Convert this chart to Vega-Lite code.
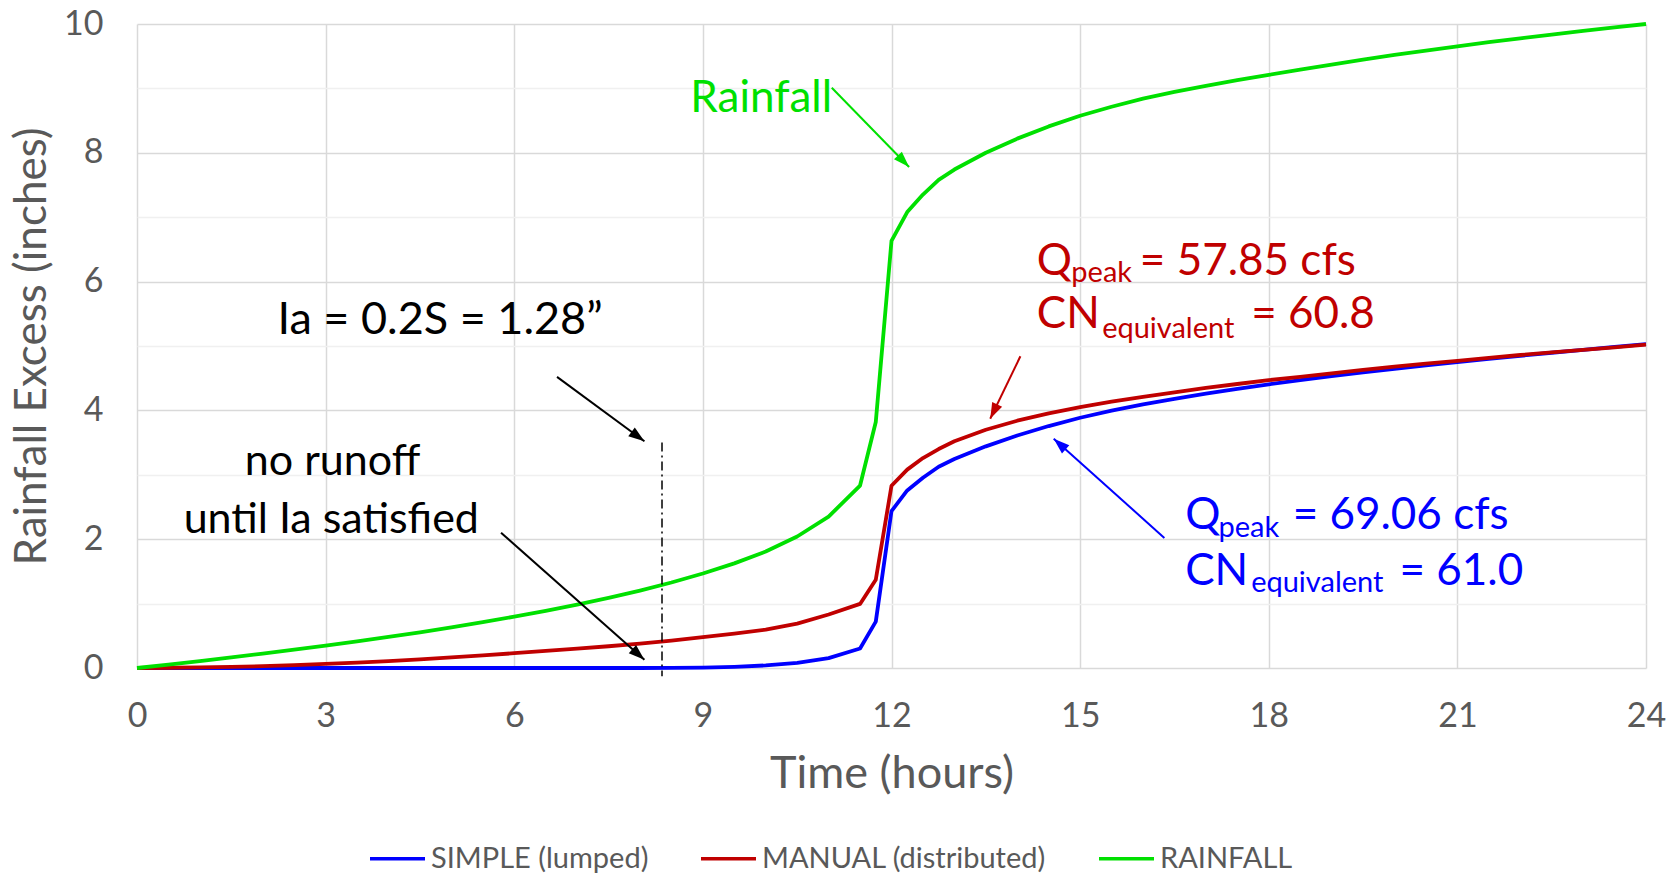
{
  "$schema": "https://vega.github.io/schema/vega-lite/v6.json",
  "width": 1509,
  "height": 644,
  "autosize": {"type": "none"},
  "padding": {"left": 137, "top": 24, "right": 34, "bottom": 207},
  "background": "white",
  "config": {"font": "Lato", "view": {"stroke": null}},
  "datasets": {
    "series": [
      {"t": 0, "simple": 0, "manual": 0, "rainfall": 0},
      {"t": 0.5, "simple": 0, "manual": 0.004, "rainfall": 0.053},
      {"t": 1, "simple": 0, "manual": 0.01, "rainfall": 0.108},
      {"t": 1.5, "simple": 0, "manual": 0.018, "rainfall": 0.164},
      {"t": 2, "simple": 0, "manual": 0.028, "rainfall": 0.223},
      {"t": 2.5, "simple": 0, "manual": 0.045, "rainfall": 0.284},
      {"t": 3, "simple": 0, "manual": 0.065, "rainfall": 0.347},
      {"t": 3.5, "simple": 0, "manual": 0.085, "rainfall": 0.414},
      {"t": 4, "simple": 0, "manual": 0.108, "rainfall": 0.483},
      {"t": 4.5, "simple": 0, "manual": 0.135, "rainfall": 0.555},
      {"t": 5, "simple": 0, "manual": 0.165, "rainfall": 0.632},
      {"t": 5.5, "simple": 0, "manual": 0.196, "rainfall": 0.712},
      {"t": 6, "simple": 0, "manual": 0.23, "rainfall": 0.797},
      {"t": 6.5, "simple": 0, "manual": 0.265, "rainfall": 0.887},
      {"t": 7, "simple": 0, "manual": 0.3, "rainfall": 0.984},
      {"t": 7.5, "simple": 0, "manual": 0.338, "rainfall": 1.089},
      {"t": 8, "simple": 0, "manual": 0.378, "rainfall": 1.203},
      {"t": 8.5, "simple": 0.0004, "manual": 0.425, "rainfall": 1.328},
      {"t": 9, "simple": 0.005, "manual": 0.48, "rainfall": 1.467},
      {"t": 9.5, "simple": 0.018, "manual": 0.535, "rainfall": 1.625},
      {"t": 10, "simple": 0.04, "manual": 0.595, "rainfall": 1.808},
      {"t": 10.5, "simple": 0.081, "manual": 0.69, "rainfall": 2.042},
      {"t": 11, "simple": 0.154, "manual": 0.83, "rainfall": 2.351},
      {"t": 11.5, "simple": 0.303, "manual": 0.995, "rainfall": 2.833},
      {"t": 11.75, "simple": 0.72, "manual": 1.37, "rainfall": 3.82},
      {"t": 12, "simple": 2.437, "manual": 2.83, "rainfall": 6.632},
      {"t": 12.25, "simple": 2.757, "manual": 3.08, "rainfall": 7.08},
      {"t": 12.5, "simple": 2.955, "manual": 3.26, "rainfall": 7.351},
      {"t": 12.75, "simple": 3.125, "manual": 3.4, "rainfall": 7.58},
      {"t": 13, "simple": 3.245, "manual": 3.52, "rainfall": 7.74},
      {"t": 13.5, "simple": 3.442, "manual": 3.7, "rainfall": 8.0},
      {"t": 14, "simple": 3.61, "manual": 3.84, "rainfall": 8.22},
      {"t": 14.5, "simple": 3.757, "manual": 3.955, "rainfall": 8.41},
      {"t": 15, "simple": 3.886, "manual": 4.05, "rainfall": 8.575},
      {"t": 15.5, "simple": 3.996, "manual": 4.135, "rainfall": 8.715},
      {"t": 16, "simple": 4.094, "manual": 4.21, "rainfall": 8.84},
      {"t": 16.5, "simple": 4.18, "manual": 4.28, "rainfall": 8.945},
      {"t": 17, "simple": 4.26, "manual": 4.35, "rainfall": 9.04},
      {"t": 17.5, "simple": 4.335, "manual": 4.41, "rainfall": 9.13},
      {"t": 18, "simple": 4.405, "manual": 4.47, "rainfall": 9.21},
      {"t": 18.5, "simple": 4.47, "manual": 4.52, "rainfall": 9.29},
      {"t": 19, "simple": 4.532, "manual": 4.575, "rainfall": 9.37},
      {"t": 19.5, "simple": 4.59, "manual": 4.63, "rainfall": 9.446},
      {"t": 20, "simple": 4.645, "manual": 4.68, "rainfall": 9.519},
      {"t": 20.5, "simple": 4.698, "manual": 4.725, "rainfall": 9.588},
      {"t": 21, "simple": 4.75, "manual": 4.77, "rainfall": 9.653},
      {"t": 21.5, "simple": 4.8, "manual": 4.815, "rainfall": 9.717},
      {"t": 22, "simple": 4.848, "manual": 4.86, "rainfall": 9.777},
      {"t": 22.5, "simple": 4.895, "manual": 4.9, "rainfall": 9.836},
      {"t": 23, "simple": 4.941, "manual": 4.94, "rainfall": 9.892},
      {"t": 23.5, "simple": 4.985, "manual": 4.98, "rainfall": 9.947},
      {"t": 24, "simple": 5.029, "manual": 5.02, "rainfall": 10.0}
    ],
    "ia": [{"t": 8.35, "v": 3.5, "v2": -0.13}],
    "arrows": [
      {"grp": "k", "t": 6.68, "v": 4.52, "t2": 8.07, "v2": 3.52, "ang": 126.4},
      {"grp": "k", "t": 5.79, "v": 2.1, "t2": 8.07, "v2": 0.13, "ang": 131.5},
      {"grp": "g", "t": 11.05, "v": 9.01, "t2": 12.28, "v2": 7.78, "ang": 135.7},
      {"grp": "r", "t": 14.05, "v": 4.84, "t2": 13.57, "v2": 3.87, "ang": 205.7},
      {"grp": "b", "t": 16.34, "v": 2.02, "t2": 14.58, "v2": 3.56, "ang": 311.8}
    ],
    "notes": [
      {"txt": "Rainfall", "t": 8.8, "v": 8.64, "grp": "g", "kind": "L"},
      {"txt": "Q", "t": 14.31, "v": 6.11, "grp": "r", "kind": "L"},
      {"txt": "peak", "t": 14.86, "v": 6.0, "grp": "r", "kind": "S"},
      {"txt": "= 57.85 cfs", "t": 15.95, "v": 6.11, "grp": "r", "kind": "L"},
      {"txt": "CN", "t": 14.31, "v": 5.28, "grp": "r", "kind": "L"},
      {"txt": "equivalent", "t": 15.35, "v": 5.12, "grp": "r", "kind": "S"},
      {"txt": "= 60.8", "t": 17.72, "v": 5.28, "grp": "r", "kind": "L"},
      {"txt": "Q", "t": 16.67, "v": 2.16, "grp": "b", "kind": "L"},
      {"txt": "peak", "t": 17.2, "v": 2.03, "grp": "b", "kind": "S"},
      {"txt": "= 69.06 cfs", "t": 18.38, "v": 2.16, "grp": "b", "kind": "L"},
      {"txt": "CN", "t": 16.67, "v": 1.29, "grp": "b", "kind": "L"},
      {"txt": "equivalent", "t": 17.72, "v": 1.18, "grp": "b", "kind": "S"},
      {"txt": "= 61.0", "t": 20.08, "v": 1.29, "grp": "b", "kind": "L"},
      {"txt": "Ia = 0.2S = 1.28”", "t": 4.82, "v": 5.18, "grp": "k", "kind": "I"},
      {"txt": "no runoff", "t": 3.11, "v": 3.0, "grp": "k", "kind": "C"},
      {"txt": "until Ia satisfied", "t": 3.09, "v": 2.1, "grp": "k", "kind": "C"}
    ]
  },
  "resolve": {"scale": {"color": "independent"}, "legend": {"color": "independent"}},
  "layer": [
    {
      "data": {"name": "series"},
      "transform": [{"fold": ["simple", "manual", "rainfall"], "as": ["series", "val"]}],
      "mark": {"type": "line", "strokeWidth": 3.8, "strokeJoin": "round"},
      "encoding": {
        "x": {
          "field": "t", "type": "quantitative",
          "scale": {"domain": [0, 24], "nice": false, "zero": false},
          "axis": {
            "values": [0, 3, 6, 9, 12, 15, 18, 21, 24],
            "format": "d",
            "grid": true, "gridColor": "#D9D9D9", "gridWidth": 1.5,
            "domain": false, "ticks": false,
            "labelFontSize": 34, "labelColor": "#595959", "labelPadding": 31,
            "labelFlush": false, "labelOverlap": false,
            "title": "Time (hours)", "titleFontSize": 45, "titleFontWeight": "normal",
            "titleColor": "#595959", "titleY": 119, "titleBaseline": "alphabetic"
          }
        },
        "y": {
          "field": "val", "type": "quantitative",
          "scale": {"domain": [0, 10], "nice": false},
          "axis": {
            "values": [0, 0.5, 1, 1.5, 2, 2.5, 3, 3.5, 4, 4.5, 5, 5.5, 6, 6.5, 7, 7.5, 8, 8.5, 9, 9.5, 10],
            "grid": true,
            "gridColor": {"condition": {"test": "datum.value % 2 === 0", "value": "#D9D9D9"}, "value": "#F0F0F0"},
            "gridWidth": 1.5,
            "domain": false, "ticks": false,
            "labelExpr": "datum.value % 2 === 0 ? format(datum.value, 'd') : ''",
            "labelFontSize": 34, "labelColor": "#595959", "labelPadding": 34,
            "labelOverlap": false, "labelFlush": false,
            "title": "Rainfall Excess (inches)", "titleFontSize": 44, "titleFontWeight": "normal",
            "titleColor": "#595959", "titleX": -83, "titleY": 322,
            "titleAngle": 270, "titleBaseline": "bottom", "titleAlign": "center"
          }
        },
        "color": {
          "field": "series", "type": "nominal",
          "scale": {"domain": ["simple", "manual", "rainfall"], "range": ["#0000FF", "#C00000", "#00E000"]},
          "legend": {
            "orient": "none", "legendX": 231, "legendY": 805, "direction": "horizontal",
            "title": null, "symbolType": "stroke", "symbolSize": 3025, "symbolStrokeWidth": 3.5,
            "labelFontSize": 29, "labelColor": "#595959", "labelFont": "Lato", "labelOffset": 4,
            "labelLimit": 0, "columnPadding": 45,
            "labelExpr": "datum.label === 'simple' ? 'SIMPLE (lumped)' : datum.label === 'manual' ? 'MANUAL (distributed)' : 'RAINFALL'"
          }
        }
      }
    },
    {
      "data": {"name": "ia"},
      "mark": {"type": "rule", "color": "#000000", "strokeWidth": 1.5, "strokeDash": [9, 4, 2, 4]},
      "encoding": {
        "x": {"field": "t", "type": "quantitative"},
        "y": {"field": "v", "type": "quantitative"},
        "y2": {"field": "v2"}
      }
    },
    {
      "data": {"name": "arrows"},
      "mark": {"type": "rule", "strokeWidth": 2},
      "encoding": {
        "x": {"field": "t", "type": "quantitative"},
        "y": {"field": "v", "type": "quantitative"},
        "x2": {"field": "t2"},
        "y2": {"field": "v2"},
        "color": {"field": "grp", "type": "nominal", "scale": {"domain": ["k", "g", "r", "b"], "range": ["#000000", "#00E000", "#C00000", "#0000FF"]}, "legend": null}
      }
    },
    {
      "data": {"name": "arrows"},
      "mark": {"type": "point", "filled": true, "opacity": 1, "size": 400, "shape": "M0,0L-0.55,1.6L0.55,1.6Z"},
      "encoding": {
        "x": {"field": "t2", "type": "quantitative"},
        "y": {"field": "v2", "type": "quantitative"},
        "angle": {"field": "ang", "type": "quantitative", "scale": null},
        "color": {"field": "grp", "type": "nominal", "scale": {"domain": ["k", "g", "r", "b"], "range": ["#000000", "#00E000", "#C00000", "#0000FF"]}, "legend": null}
      }
    },
    {
      "data": {"name": "notes"},
      "transform": [{"filter": "datum.kind === 'L'"}],
      "mark": {"type": "text", "align": "left", "baseline": "alphabetic", "fontSize": 44, "font": "Lato"},
      "encoding": {
        "x": {"field": "t", "type": "quantitative"},
        "y": {"field": "v", "type": "quantitative"},
        "text": {"field": "txt"},
        "color": {"field": "grp", "type": "nominal", "scale": {"domain": ["k", "g", "r", "b"], "range": ["#000000", "#00E000", "#C00000", "#0000FF"]}, "legend": null}
      }
    },
    {
      "data": {"name": "notes"},
      "transform": [{"filter": "datum.kind === 'S'"}],
      "mark": {"type": "text", "align": "left", "baseline": "alphabetic", "fontSize": 29, "font": "Lato"},
      "encoding": {
        "x": {"field": "t", "type": "quantitative"},
        "y": {"field": "v", "type": "quantitative"},
        "text": {"field": "txt"},
        "color": {"field": "grp", "type": "nominal", "scale": {"domain": ["k", "g", "r", "b"], "range": ["#000000", "#00E000", "#C00000", "#0000FF"]}, "legend": null}
      }
    },
    {
      "data": {"name": "notes"},
      "transform": [{"filter": "datum.kind === 'C'"}],
      "mark": {"type": "text", "align": "center", "baseline": "alphabetic", "fontSize": 43, "font": "Lato"},
      "encoding": {
        "x": {"field": "t", "type": "quantitative"},
        "y": {"field": "v", "type": "quantitative"},
        "text": {"field": "txt"},
        "color": {"field": "grp", "type": "nominal", "scale": {"domain": ["k", "g", "r", "b"], "range": ["#000000", "#00E000", "#C00000", "#0000FF"]}, "legend": null}
      }
    },
    {
      "data": {"name": "notes"},
      "transform": [{"filter": "datum.kind === 'I'"}],
      "mark": {"type": "text", "align": "center", "baseline": "alphabetic", "fontSize": 45, "font": "Lato"},
      "encoding": {
        "x": {"field": "t", "type": "quantitative"},
        "y": {"field": "v", "type": "quantitative"},
        "text": {"field": "txt"},
        "color": {"field": "grp", "type": "nominal", "scale": {"domain": ["k", "g", "r", "b"], "range": ["#000000", "#00E000", "#C00000", "#0000FF"]}, "legend": null}
      }
    }
  ]
}
